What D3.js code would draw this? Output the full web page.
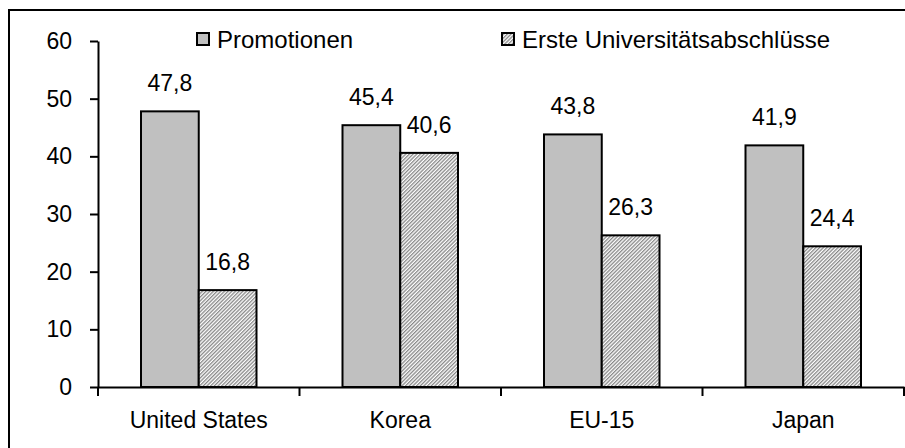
<!DOCTYPE html>
<html>
<head>
<meta charset="utf-8">
<script src="https://cdn.jsdelivr.net/npm/d3@7"></script>
<style>
  body { margin: 0; background: #fff; }
  text { font-family: "Liberation Sans", Arial, sans-serif; font-size: 23px; fill: #000; }
</style>
</head>
<body>
<svg id="chart" width="905" height="448"></svg>
<script>
// Data
const categories = ["United States", "Korea", "EU-15", "Japan"];
const seriesNames = ["Promotionen", "Erste Universitätsabschlüsse"];
const promotionen = [47.8, 45.4, 43.8, 41.9];
const ersteAbschluesse = [16.8, 40.6, 26.3, 24.4];
const yTicks = [0, 10, 20, 30, 40, 50, 60];

const svg = d3.select("#chart");

// hatch pattern for second series
const defs = svg.append("defs");
defs.append("pattern")
    .attr("id", "hatch")
    .attr("patternUnits", "userSpaceOnUse")
    .attr("width", 2.6)
    .attr("height", 2.6)
    .attr("patternTransform", "rotate(45)")
    .call(p => {
        p.append("rect").attr("width", 2.6).attr("height", 2.6).attr("fill", "#fff");
        p.append("rect").attr("width", 1.3).attr("height", 2.6).attr("fill", "#888");
    });

// outer frame (only top and left visible)
svg.append("rect")
    .attr("x", 9).attr("y", 10)
    .attr("width", 905).attr("height", 450)
    .attr("fill", "none")
    .attr("stroke", "#000")
    .attr("stroke-width", 2);

const plotLeft = 98, plotRight = 904, plotTop = 41, plotBottom = 387;

const x0 = d3.scaleBand().domain(categories).range([plotLeft, plotRight]).padding(0);
const x1 = d3.scaleBand().domain(seriesNames).range([43, x0.bandwidth() - 43]).padding(0);
const y = d3.scaleLinear().domain([0, 60]).range([plotBottom, plotTop]);

const values = [promotionen, ersteAbschluesse];
const fills = ["#c0c0c0", "url(#hatch)"];

// bars
seriesNames.forEach((s, si) => {
    svg.append("g").selectAll("rect")
        .data(categories)
        .enter()
        .append("rect")
        .attr("x", (c) => x0(c) + x1(s))
        .attr("y", (c, i) => y(values[si][i]))
        .attr("width", x1.bandwidth())
        .attr("height", (c, i) => plotBottom - y(values[si][i]))
        .attr("fill", fills[si])
        .attr("stroke", "#000")
        .attr("stroke-width", 2);

    svg.append("g").selectAll("text")
        .data(categories)
        .enter()
        .append("text")
        .attr("x", (c) => x0(c) + x1(s) + x1.bandwidth() / 2)
        .attr("y", (c, i) => y(values[si][i]) - 20)
        .attr("text-anchor", "middle")
        .text((c, i) => d3.format(".1f")(values[si][i]).replace(".", ","));
});

// y axis
const yAxis = svg.append("g")
    .attr("transform", `translate(${plotLeft},0)`)
    .call(d3.axisLeft(y).tickValues(yTicks).tickSize(8).tickPadding(18).tickSizeOuter(0));
yAxis.selectAll("path, line").attr("stroke", "#000").attr("stroke-width", 2);
yAxis.selectAll("text").style("font-size", "23px").attr("font-family", null);

// x axis
const xAxis = svg.append("g")
    .attr("transform", `translate(0,${plotBottom})`)
    .call(d3.axisBottom(x0).tickSize(0).tickPadding(25).tickSizeOuter(0));
xAxis.select("path").attr("stroke", "#000").attr("stroke-width", 2);
xAxis.selectAll("text").style("font-size", "23px").attr("font-family", null);

// boundary ticks between categories
svg.append("g").selectAll("line")
    .data(categories.concat(["end"]))
    .enter()
    .append("line")
    .attr("x1", (c, i) => i < categories.length ? x0(c) : plotRight)
    .attr("x2", (c, i) => i < categories.length ? x0(c) : plotRight)
    .attr("y1", plotBottom)
    .attr("y2", plotBottom + 9)
    .attr("stroke", "#000")
    .attr("stroke-width", 2);

// legend
const legendX = [197, 502];
const legend = svg.append("g");
seriesNames.forEach((s, i) => {
    legend.append("rect")
        .attr("x", legendX[i]).attr("y", 33)
        .attr("width", 12).attr("height", 12)
        .attr("fill", fills[i])
        .attr("stroke", "#000")
        .attr("stroke-width", 2);
    legend.append("text")
        .attr("x", legendX[i] + 20)
        .attr("y", 48)
        .style("font-size", "24px")
        .text(s);
});
</script>
</body>
</html>
